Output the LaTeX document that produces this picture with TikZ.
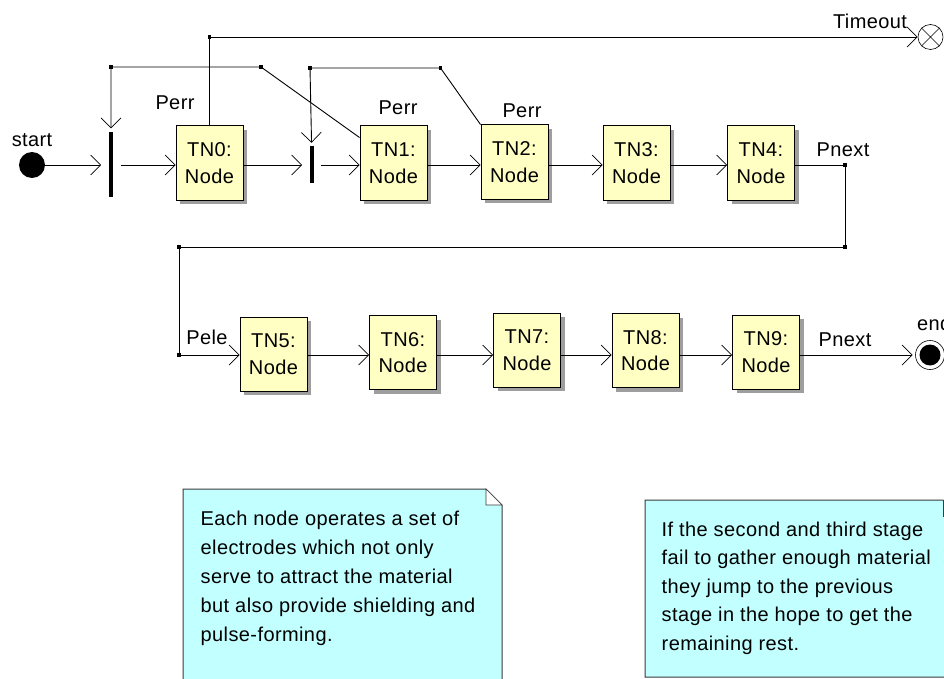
\documentclass[tikz,border=0pt]{standalone}
\usepackage{fontspec}
\setmainfont{Liberation Sans}[LetterSpace=2]
\usetikzlibrary{arrows.meta,calc,shadows}

\definecolor{boxfill}{HTML}{FFFFC4}
\definecolor{notefill}{HTML}{C2FFFF}
\definecolor{noteline}{HTML}{3A3A3A}

\tikzset{
  lbl/.style={font=\fontsize{20}{26.7}\selectfont, inner sep=0pt},
  tn/.style={draw=black, fill=boxfill, line width=1pt, minimum width=67pt,
    minimum height=74pt, inner sep=0pt, align=center,
    font=\fontsize{20}{26.7}\selectfont,
    drop shadow={shadow xshift=4pt, shadow yshift=-4pt, fill=black!38, opacity=1}},
  forkbar/.style={fill=black, minimum width=4.5pt, inner sep=0pt},
  corner/.style={fill=black, rectangle, minimum size=3.5pt, inner sep=0pt},
  conn/.style={line width=0.9pt, -{Straight Barb[length=10pt, width=20pt, line width=0.7pt]}},
  notebox/.style={draw=noteline, fill=notefill, line width=1pt},
  notetext/.style={anchor=base west, align=left, inner sep=0pt}
}

\begin{document}
\begin{tikzpicture}[x=1pt, y=-1pt]
\useasboundingbox (0,0) rectangle (944,679);

% rows along which the straight arrows run
\coordinate (row1) at (0,165);
\coordinate (row2) at (0,355);

% ---- initial state and fork bars
\node[circle, fill=black, minimum size=26pt, inner sep=0pt] (start) at (32,165) {};
\node[lbl] at (32,140) {start};
\node[forkbar, minimum height=65pt] (bar1) at (111,164.5) {};
\node[forkbar, minimum height=37pt] (bar2) at (312,164.5) {};

% ---- first row of stages
\node[tn] (TN0) at (209.5,163) {TN0:\\Node};
\node[tn] (TN1) at (393.5,163) {TN1:\\Node};
\node[tn] (TN2) at (514.5,162) {TN2:\\Node};
\node[tn] (TN3) at (636.5,163) {TN3:\\Node};
\node[tn] (TN4) at (761,163) {TN4:\\Node};

% ---- second row of stages
\node[tn] (TN5) at (273.5,354) {TN5:\\Node};
\node[tn] (TN6) at (403,352.5) {TN6:\\Node};
\node[tn] (TN7) at (527,350) {TN7:\\Node};
\node[tn] (TN8) at (645.5,350.5) {TN8:\\Node};
\node[tn] (TN9) at (766,352) {TN9:\\Node};

% ---- final states
\node[circle, draw=black, line width=0.6pt, minimum size=25pt, inner sep=0pt] (tout) at (930.5,37) {};
\draw[line width=0.6pt] (tout.45) -- (tout.225) (tout.135) -- (tout.315);
\node[lbl] at (870,21) {Timeout};
\node[circle, draw=black, line width=0.6pt, minimum size=29pt, inner sep=0pt] (end) at (930,355) {};
\fill[black] (end.center) circle (10.5);
\node[lbl, anchor=west] at (917,323) {end};

% ---- bend points
\node[corner] (c1) at (111,67) {};
\node[corner] (c2) at (261,67) {};
\node[corner] (c3) at (310,68) {};
\node[corner] (c4) at (440.5,68) {};
\node[corner] (c5) at (209.5,37) {};
\node[corner] (c6) at (845,165) {};
\node[corner] (c7) at (845,247) {};
\node[corner] (c8) at (179,247) {};
\node[corner] (c9) at (179,355) {};

% ---- main flow
\draw[conn, shorten >=10pt] (start) -- (bar1.center |- row1);
\draw[conn, shorten <=9.5pt] (bar1.center |- row1) -- (TN0.west |- row1);
\draw[conn, shorten >=10pt] (TN0.east |- row1) -- (bar2.center |- row1);
\draw[conn, shorten <=8.5pt] (bar2.center |- row1) -- (TN1.west |- row1);
\draw[conn] (TN1.east |- row1) -- (TN2.west |- row1);
\draw[conn] (TN2.east |- row1) -- (TN3.west |- row1);
\draw[conn] (TN3.east |- row1) -- (TN4.west |- row1);
\draw[conn] (TN5.east |- row2) -- (TN6.west |- row2);
\draw[conn] (TN6.east |- row2) -- (TN7.west |- row2);
\draw[conn] (TN7.east |- row2) -- (TN8.west |- row2);
\draw[conn] (TN8.east |- row2) -- (TN9.west |- row2);
\draw[conn, shorten >=2.5pt] (TN9.east |- row2) -- (end);

% ---- error returns and timeout
\draw[conn, shorten >=3.5pt] ($(TN1.north west)+(0,12)$) -- (c2.center) -- (c1.center) -- (bar1);
\draw[conn, shorten >=3pt] (TN2.north west) -- (c4.center) -- (c3.center) -- (bar2);
\draw[conn] (TN0.north) -- (c5.center) -- (tout);
\node[lbl] at (175,103) {Perr};
\node[lbl] at (398,108) {Perr};
\node[lbl] at (522,111) {Perr};

% ---- hand-over from first row to second row
\draw[conn] (TN4.east |- c6) -- (c6.center) -- (c7.center) -- (c8.center) -- (c9.center) -- (TN5.west |- row2);
\node[lbl] at (843,150) {Pnext};
\node[lbl] at (207,337) {Pele};
\node[lbl] at (845,340) {Pnext};

% ---- notes
\filldraw[notebox] (183,489) -- (486,489) -- (502,505) -- (502,700) -- (183,700) -- cycle;
\filldraw[draw=noteline, fill=white, line width=0.7pt] (486,489) -- (486,505) -- (502,505) -- cycle;
\node[notetext, font=\fontsize{20}{29}\selectfont] at (200.5,641) {Each node operates a set of\\electrodes which not only\\serve to attract the material\\but also provide shielding and\\pulse-forming.};

\filldraw[notebox] (645,500) -- (943,500) -- (959,516) -- (959,677) -- (645,677) -- cycle;
\draw[draw=noteline, line width=0.7pt] (943,500) -- (943,516) -- (959,516);
\node[notetext, font=\fontsize{20}{28.4}\selectfont] at (661.5,650) {If the second and third stage\\fail to gather enough material\\they jump to the previous\\stage in the hope to get the\\remaining rest.};
\end{tikzpicture}
\end{document}
